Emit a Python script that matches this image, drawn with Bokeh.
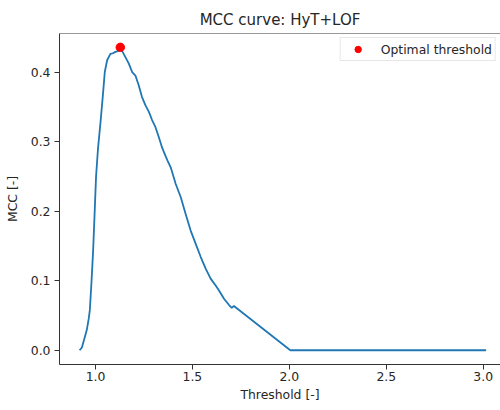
from bokeh.plotting import figure
from bokeh.models import FixedTicker, Range1d, Span, Legend, LegendItem, PrintfTickFormatter
from bokeh.embed import file_html
from bokeh.resources import INLINE

# Data
threshold = [0.918, 0.930, 0.940, 0.955, 0.965, 0.971, 0.979, 0.988, 0.996, 1.003,
             1.013, 1.026, 1.038, 1.048, 1.060, 1.077, 1.090, 1.103, 1.115, 1.129,
             1.140, 1.155, 1.172, 1.189, 1.206, 1.223, 1.240, 1.258, 1.275, 1.292,
             1.309, 1.326, 1.343, 1.350, 1.371, 1.388, 1.414, 1.440, 1.465, 1.491,
             1.517, 1.543, 1.569, 1.594, 1.620, 1.637, 1.663, 1.689, 1.703, 1.714,
             2.005, 3.015]
mcc = [0.000, 0.004, 0.014, 0.029, 0.045, 0.058, 0.096, 0.144, 0.200, 0.250,
       0.290, 0.328, 0.366, 0.400, 0.417, 0.426, 0.427, 0.429, 0.430, 0.4355,
       0.429, 0.421, 0.412, 0.400, 0.395, 0.381, 0.364, 0.352, 0.343, 0.331,
       0.321, 0.307, 0.292, 0.287, 0.273, 0.263, 0.239, 0.220, 0.196, 0.172,
       0.153, 0.134, 0.117, 0.103, 0.093, 0.086, 0.074, 0.065, 0.061, 0.0636,
       0.000, 0.000]
opt_threshold = [1.128]
opt_mcc = [0.4355]
x_ticks = [1.0, 1.5, 2.0, 2.5, 3.0]
y_ticks = [0.0, 0.1, 0.2, 0.3, 0.4]

FONT = "DejaVu Sans"
TXT = "#262626"

p = figure(width=500, height=410, output_backend="svg", toolbar_location=None,
           x_range=Range1d(0.8144, 3.0892), y_range=Range1d(-0.0205, 0.4554),
           min_border_left=59, min_border_right=0, min_border_top=33, min_border_bottom=46)

p.title.text = "MCC curve: HyT+LOF"
p.title.align = "center"
p.title.text_font = FONT
p.title.text_font_size = "15px"
p.title.text_font_style = "normal"
p.title.text_color = TXT

p.xgrid.visible = False
p.ygrid.visible = False
p.outline_line_color = None
p.add_layout(Span(location=0.4554, dimension="width", line_color="#333333", line_width=1))

for ax in (p.xaxis[0], p.yaxis[0]):
    ax.major_label_text_font = FONT
    ax.major_label_text_font_size = "12.4px"
    ax.major_label_text_color = TXT
    ax.axis_label_text_font = FONT
    ax.axis_label_text_font_size = "12.4px"
    ax.axis_label_text_font_style = "normal"
    ax.axis_label_text_color = TXT
    ax.axis_line_color = "#333333"
    ax.major_tick_line_color = "#333333"
    ax.major_tick_in = 0
    ax.major_tick_out = 5
    ax.minor_tick_line_color = None
    ax.formatter = PrintfTickFormatter(format="%.1f")

p.xaxis.major_label_standoff = 2
p.xaxis.axis_label_standoff = 3
p.yaxis.major_label_standoff = 4
p.yaxis.axis_label_standoff = 8

p.xaxis.ticker = FixedTicker(ticks=x_ticks)
p.yaxis.ticker = FixedTicker(ticks=y_ticks)
p.xaxis.axis_label = "Threshold [-]"
p.yaxis.axis_label = "MCC [-]"

p.line(threshold, mcc, line_color="#1f77b4", line_width=1.8)
r = p.scatter(opt_threshold, opt_mcc, size=8.5, fill_color="#ff0000", line_color="#ff0000")

legend = Legend(items=[LegendItem(label="Optimal threshold", renderers=[r])],
                location="top_right", margin=4, padding=3, spacing=0,
                label_text_font=FONT, label_text_font_size="12.4px", label_text_color=TXT,
                border_line_color="#d0d0d0", border_line_width=1,
                glyph_width=28, glyph_height=16, label_height=16, label_standoff=9)
p.add_layout(legend)

open("out.html", "w").write(file_html(p, INLINE))
